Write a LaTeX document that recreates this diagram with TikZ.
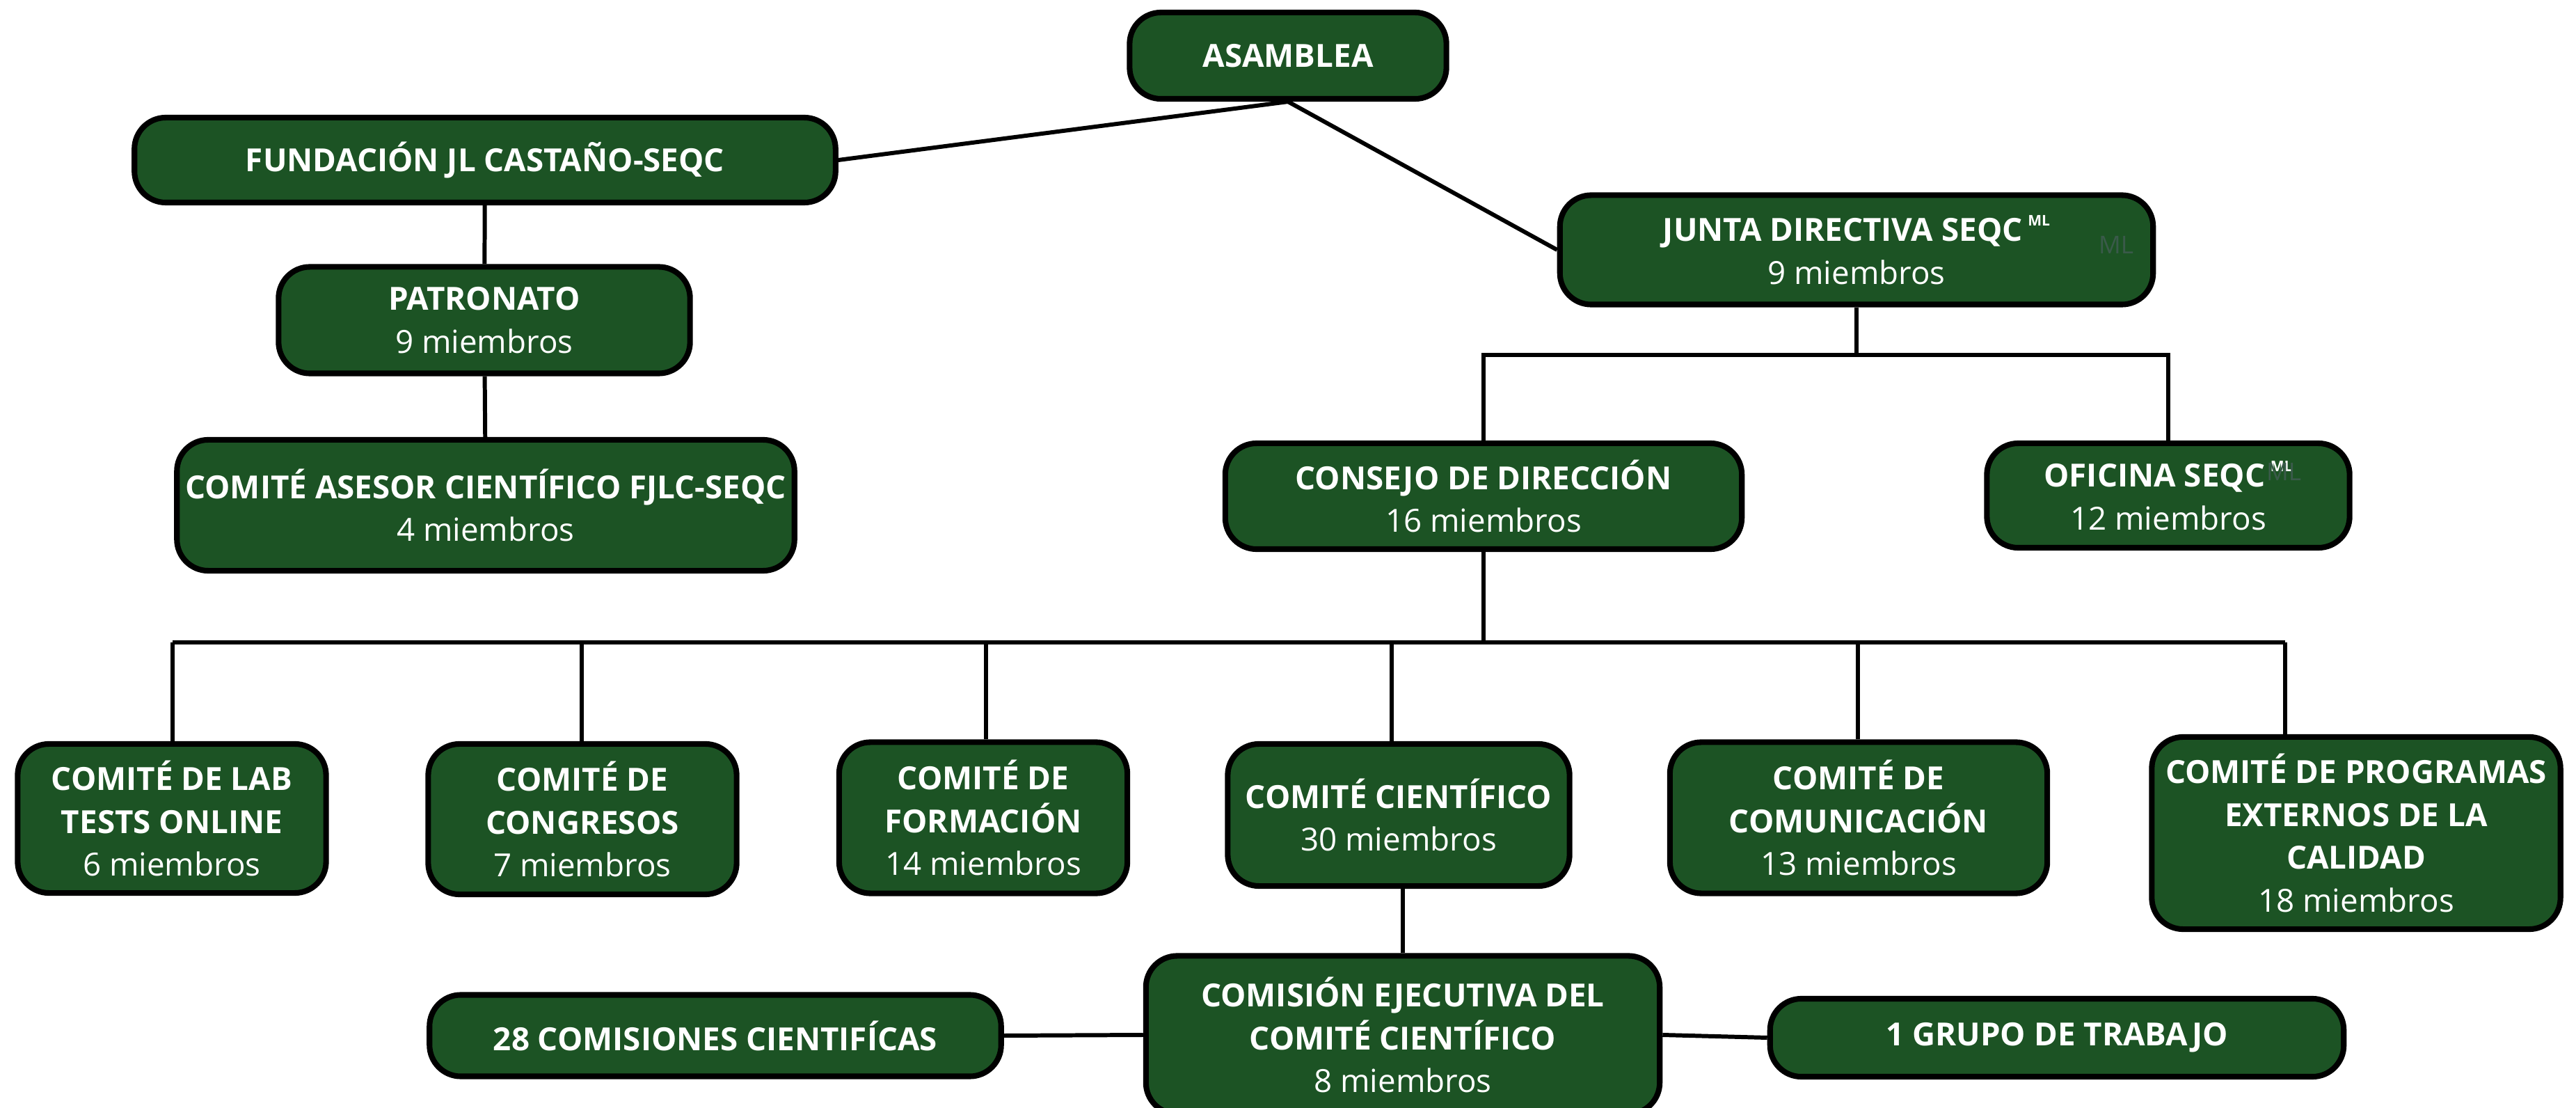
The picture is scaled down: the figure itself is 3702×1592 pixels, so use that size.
\documentclass[tikz,border=0pt]{standalone}
\usepackage{fontspec}
\setmainfont{Open Sans}
\usepackage{xcolor}
\definecolor{seqcgreen}{RGB}{28, 83, 36}
\definecolor{seqcfaint}{RGB}{58, 90, 74}

\tikzset{
  organo/.style={draw=black, line width=2.3pt, fill=seqcgreen, rounded corners=0.45cm, text=white, align=center, inner sep=2pt, font=\fontsize{13}{17.5}\selectfont},
  enlace/.style={line width=1.7pt},
  sombra/.style={text=seqcfaint, inner sep=0pt, font=\fontsize{10}{10}\selectfont}
}
\newcommand{\marcaml}{\,\raisebox{0.9ex}{\fontsize{6}{6}\selectfont ML}}

\begin{document}
\begin{tikzpicture}[x=0.01cm, y=-0.01cm]
\useasboundingbox (0,0) rectangle (3702,1592);

% top
\node[organo, minimum width=4.55cm, minimum height=1.24cm] (asamblea) at (1851,80) {\textbf{ASAMBLEA}};
\node[organo, minimum width=10.07cm, minimum height=1.22cm] (fundacion) at (697,230) {\textbf{FUNDACIÓN JL CASTAÑO-SEQC}};
\node[organo, minimum width=8.52cm, minimum height=1.57cm] (junta) at (2668,359) {\textbf{JUNTA DIRECTIVA SEQC\marcaml}\\9 miembros};
\node[sombra] (juntaml) at (3041,352) {ML};

% fundacion
\node[organo, minimum width=5.91cm, minimum height=1.53cm] (patronato) at (696,460) {\textbf{PATRONATO}\\9 miembros};
\node[organo, minimum width=8.87cm, minimum height=1.88cm] (asesor) at (698,726) {\textbf{COMITÉ ASESOR CIENTÍFICO FJLC-SEQC}\\4 miembros};

% junta
\node[organo, minimum width=7.42cm, minimum height=1.52cm] (consejo) at (2132,713) {\textbf{CONSEJO DE DIRECCIÓN}\\16 miembros};
\node[organo, minimum width=5.21cm, minimum height=1.50cm] (oficina) at (3116,712) {\textbf{OFICINA SEQC\marcaml}\\12 miembros};
\node[sombra] (oficinaml) at (3282,678) {ML};

% comites
\node[organo, minimum width=4.43cm, minimum height=2.14cm] (labtests) at (247,1176) {\textbf{COMITÉ DE LAB}\\\textbf{TESTS ONLINE}\\6 miembros};
\node[organo, minimum width=4.43cm, minimum height=2.16cm] (congresos) at (837,1177) {\textbf{COMITÉ DE}\\\textbf{CONGRESOS}\\7 miembros};
\node[organo, minimum width=4.14cm, minimum height=2.17cm] (formacion) at (1413,1175) {\textbf{COMITÉ DE}\\\textbf{FORMACIÓN}\\14 miembros};
\node[organo, minimum width=4.91cm, minimum height=2.04cm] (cientifico) at (2010,1171) {\textbf{COMITÉ CIENTÍFICO}\\30 miembros};
\node[organo, minimum width=5.42cm, minimum height=2.17cm] (comunicacion) at (2671,1175) {\textbf{COMITÉ DE}\\\textbf{COMUNICACIÓN}\\13 miembros};
\node[organo, minimum width=5.87cm, minimum height=2.76cm] (programas) at (3386,1197) {\textbf{COMITÉ DE PROGRAMAS}\\\textbf{EXTERNOS DE LA}\\\textbf{CALIDAD}\\18 miembros};

% comision ejecutiva
\node[organo, minimum width=8.21cm, minimum height=1.17cm] (comisiones) at (1028,1488) {\textbf{28 COMISIONES CIENTIFÍCAS}};
\node[organo, minimum width=7.38cm, minimum height=2.27cm] (comision) at (2016,1487) {\textbf{COMISIÓN EJECUTIVA DEL}\\\textbf{COMITÉ CIENTÍFICO}\\8 miembros};
\node[organo, minimum width=8.24cm, minimum height=1.12cm] (grupo) at (2956,1491) {\textbf{1 GRUPO DE TRABAJO}};

% enlaces
\draw[enlace] (asamblea.south) -- (fundacion.east);
\draw[enlace] (asamblea.south) -- (junta.west);
\draw[enlace] (fundacion) -- (patronato);
\draw[enlace] (patronato) -- (asesor);

\coordinate (ramaJ) at (2666,510);
\draw[enlace] (junta.south) -- (junta.south |- ramaJ);
\draw[enlace] (consejo.north) |- (ramaJ) -| (oficina.north);

\coordinate (ramaC) at (2132,923);
\draw[enlace] (consejo.south) -- (ramaC);
\foreach \n/\x in {labtests/248, congresos/836, formacion/1417, cientifico/2000, comunicacion/2670, programas/3284} {
  \coordinate (b\n) at (\x,923);
  \draw[enlace] (b\n) -- (b\n |- \n.north);
}
\draw[enlace] (blabtests) -- (bprogramas);

\draw[enlace] (comision.north) -- (comision.north |- cientifico.south);
\draw[enlace] (comision.west) -- (comisiones.east);
\draw[enlace] (comision.east) -- (grupo.west);
\end{tikzpicture}
\end{document}
